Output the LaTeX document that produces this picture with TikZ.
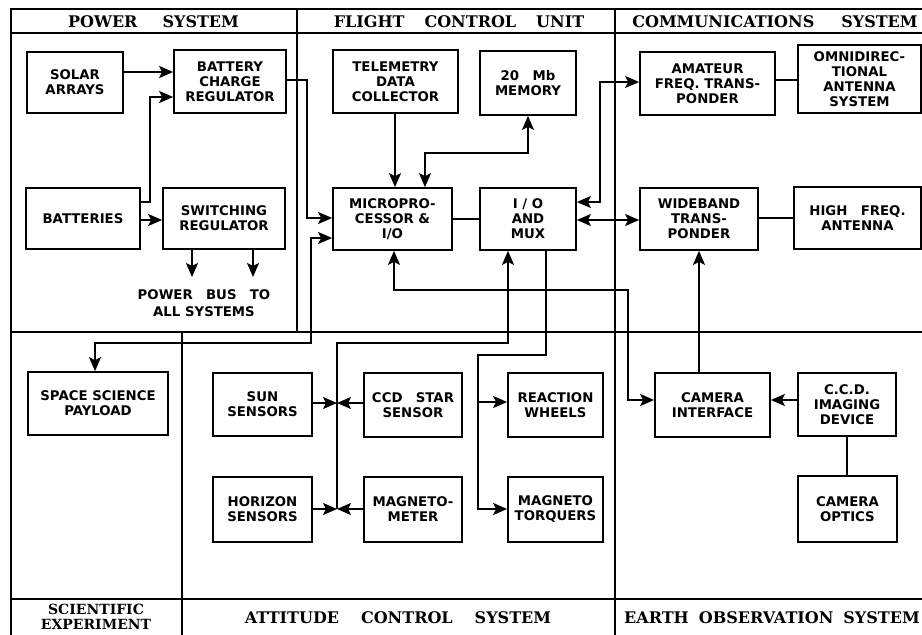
\documentclass[tikz,border=0pt]{standalone}
\usepackage{fontspec}
\setmainfont{DejaVu Sans}
\newfontfamily\boxfont{DejaVu Sans}
\newfontfamily\hdfont{DejaVu Serif}
\usetikzlibrary{arrows.meta,calc}
\begin{document}
\begin{tikzpicture}[x=1pt,y=-1pt,
  box/.style={draw,line width=1.7pt,align=center,inner sep=0pt,
    font=\boxfont\bfseries\fontsize{13.3}{15}\selectfont},
  lbl/.style={align=center,inner sep=0pt,
    font=\boxfont\bfseries\fontsize{13.3}{17}\selectfont},
  frame/.style={line width=2pt},
  conn/.style={line width=1.7pt},
  tip/.tip={Stealth[length=14pt,width=12pt,inset=3pt]},
  arr/.style={conn,-tip},
  arrs/.style={conn,tip-tip},
  hd/.style={align=center,inner sep=0pt,
    font=\hdfont\bfseries\fontsize{16}{14}\selectfont},
  hdsmall/.style={align=center,inner sep=0pt,
    font=\hdfont\bfseries\fontsize{14}{15}\selectfont}
]
\useasboundingbox (0,0) rectangle (922,635);
\clip (0,0) rectangle (922,635);
\fill[white] (0,0) rectangle (922,635);

% ---------- frame ----------
\draw[frame] (930,9) -- (11,9) -- (11,640);
\draw[frame] (11,33) -- (930,33);
\draw[frame] (11,332) -- (930,332);
\draw[frame] (11,599) -- (930,599);
\draw[frame] (297,9) -- (297,332);
\draw[frame] (615,9) -- (615,640);
\draw[frame] (182,332) -- (182,640);

% ---------- headers ----------
\node[hd] (hps) at (153.5,22) {POWER\hspace{25pt}SYSTEM};
\node[hd] (hfcu) at (459,22) {FLIGHT\hspace{20pt}CONTROL\hspace{20pt}UNIT};
\node[hd] (hcom) at (775,22) {COMMUNICATIONS\hspace{27pt}SYSTEM};
\node[hdsmall] (hsci) at (96,617) {SCIENTIFIC\\EXPERIMENT};
\node[hd] (hatt) at (398,618) {ATTITUDE\hspace{22pt}CONTROL\hspace{22pt}SYSTEM};
\node[hd] (heo) at (772,618) {EARTH\hspace{10pt}OBSERVATION\hspace{10pt}SYSTEM};

% ---------- power system ----------
\node[box,minimum width=96,minimum height=61] (solar) at (75,82.5) {SOLAR\\ARRAYS};
\node[box,minimum width=112,minimum height=63] (bcr) at (230,81.5) {BATTERY\\CHARGE\\REGULATOR};
\node[box,minimum width=114,minimum height=61] (batt) at (83,218.5) {BATTERIES};
\node[box,minimum width=122,minimum height=61] (swreg) at (224,218.5) {SWITCHING\\REGULATOR};
\node[lbl] (bus) at (204,303.5) {POWER\hspace{1em}BUS\hspace{1em}TO\\ALL SYSTEMS};

% ---------- flight control unit ----------
\node[box,minimum width=125,minimum height=63] (tdc) at (395.5,81.5) {TELEMETRY\\DATA\\COLLECTOR};
\node[box,minimum width=96,minimum height=64] (mem) at (528,83) {20\hspace{1em}Mb\\MEMORY};
\node[box,minimum width=119,minimum height=62] (mp) at (392.5,219) {MICROPRO-\\CESSOR \&\\I/O};
\node[box,minimum width=96,minimum height=62] (iomux) at (528,219) {I / O\\AND\\MUX};

% ---------- communications ----------
\node[box,minimum width=135,minimum height=63] (amat) at (707.5,83.5) {AMATEUR\\FREQ. TRANS-\\PONDER};
\node[box,minimum width=123,minimum height=68] (omni) at (859.5,79) {OMNIDIREC-\\TIONAL\\ANTENNA\\SYSTEM};
\node[box,minimum width=118,minimum height=62] (wide) at (699,219) {WIDEBAND\\TRANS-\\PONDER};
\node[box,minimum width=127,minimum height=62] (hfa) at (857.5,218) {HIGH\hspace{1em}FREQ.\\ANTENNA};

% ---------- scientific experiment ----------
\node[box,minimum width=140,minimum height=63] (ssp) at (98,403.5) {SPACE SCIENCE\\PAYLOAD};

% ---------- attitude control ----------
\node[box,minimum width=99,minimum height=63] (sun) at (262.5,404.5) {SUN\\SENSORS};
\node[box,minimum width=99,minimum height=65] (hor) at (262.5,509.5) {HORIZON\\SENSORS};
\node[box,minimum width=98,minimum height=64] (ccd) at (413,405) {CCD\hspace{1em}STAR\\SENSOR};
\node[box,minimum width=98,minimum height=65] (mag) at (413,509.5) {MAGNETO-\\METER};
\node[box,minimum width=95,minimum height=64] (rw) at (555.5,405) {REACTION\\WHEELS};
\node[box,minimum width=95,minimum height=65] (mt) at (555.5,509.5) {MAGNETO\\TORQUERS};

% ---------- earth observation ----------
\node[box,minimum width=115,minimum height=64] (camif) at (712.5,405) {CAMERA\\INTERFACE};
\node[box,minimum width=98,minimum height=63] (ccdi) at (847,404.5) {C.C.D.\\IMAGING\\DEVICE};
\node[box,minimum width=99,minimum height=66] (opt) at (847.5,509) {CAMERA\\OPTICS};

% ---------- junctions ----------
\coordinate (jsun) at (337,403);
\coordinate (jhor) at (337,509);
\coordinate (jrw) at (478,402);

% ---------- connectors: power ----------
\draw[arr] (solar.east |- 0,72) -- (bcr.west |- 0,72);
\draw[arr] (batt.east |- 0,202) -- (150,202) -- (150,97) -- (bcr.west |- 0,97);
\draw[arr] (batt.east |- 0,220) -- (swreg.west |- 0,220);
\draw[arr] (swreg.south -| 192,0) -- (192,277);
\draw[arr] (swreg.south -| 253,0) -- (253,277);

% ---------- connectors: flight control ----------
\draw[arr] (bcr.east |- 0,80) -- (307,80) -- (307,218) -- (mp.west |- 0,218);
\draw[arrs] (mp.west |- 0,238) -- (311,238) -- (311,343) -- (95,343) -- (ssp.north -| 95,0);
\draw[arr] (tdc.south -| 395,0) -- (mp.north -| 395,0);
\draw[arrs] (mp.north -| 425,0) -- (425,153) -- (528,153) -- (mem.south);
\draw[conn] (mp.east) -- (iomux.west);
\draw[arrs] (iomux.east |- 0,202) -- (600,202) -- (600,82) -- (amat.west |- 0,82);
\draw[arrs] (iomux.east |- 0,220) -- (wide.west |- 0,220);
\draw[arrs] (mp.south -| 394,0) -- (394,290) -- (628,290) -- (628,400) -- (camif.west |- 0,400);

% ---------- connectors: communications / earth obs ----------
\draw[conn] (amat.east |- 0,80) -- (omni.west |- 0,80);
\draw[conn] (wide.east |- 0,218) -- (hfa.west |- 0,218);
\draw[arr] (camif.north -| 699,0) -- (wide.south -| 699,0);
\draw[arr] (ccdi.west |- 0,400) -- (camif.east |- 0,400);
\draw[conn] (ccdi.south -| 847,0) -- (opt.north -| 847,0);

% ---------- connectors: attitude ----------
\draw[arr] (sun.east |- jsun) -- (jsun);
\draw[arr] (ccd.west |- jsun) -- (jsun);
\draw[arr] (hor.east |- jhor) -- (jhor);
\draw[arr] (mag.west |- jhor) -- (jhor);
\draw[arr] (jhor) -- (337,343) -- (508,343) -- (iomux.south -| 508,0);
\draw[arr] (iomux.south -| 546,0) -- (546,355) -- (478,355) -- (478,509) -- (mt.west |- 0,509);
\draw[arr] (jrw) -- (rw.west |- jrw);
\end{tikzpicture}
\end{document}
